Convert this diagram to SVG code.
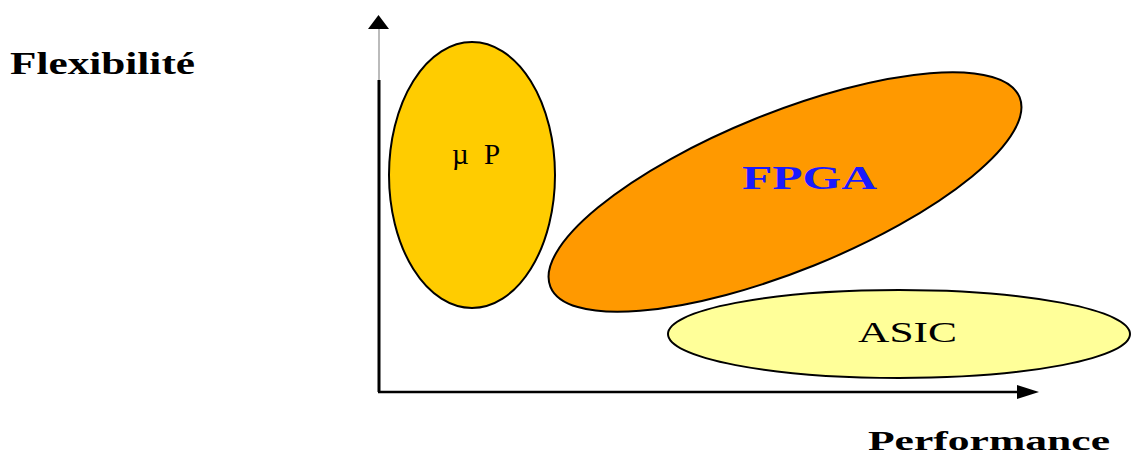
<svg xmlns="http://www.w3.org/2000/svg" width="1132" height="455" viewBox="0 0 1132 455">
<style>
.lbl{font-family:"Liberation Serif",serif;font-weight:bold;fill:#000}
.ell{stroke:#000;stroke-width:2}
.in{font-family:"Liberation Serif",serif;fill:#000}
</style>
<g id="axes">
<line x1="379" y1="80" x2="379" y2="392" stroke="#000" stroke-width="3"/>
<line x1="379" y1="80" x2="379" y2="29" stroke="#bbb" stroke-width="2"/>
<path d="M368,29 L378.5,15 L389,29 z" fill="#000"/>
<line x1="378" y1="392" x2="1018" y2="392" stroke="#000" stroke-width="2.5"/>
<path d="M1017,385 L1039,392 L1017,399 z" fill="#000"/>
</g>
<g id="asic">
<ellipse class="ell" cx="899" cy="334" rx="231" ry="44" fill="#FFFF99"/>
<text class="in" x="858" y="342" font-size="30" textLength="99" lengthAdjust="spacingAndGlyphs">ASIC</text>
</g>
<g id="up">
<ellipse class="ell" cx="472" cy="175" rx="83" ry="133" fill="#FFCC00"/>
<text class="in" y="164" font-size="29"><tspan x="452">µ</tspan><tspan x="484">P</tspan></text>
</g>
<g id="fpga">
<ellipse class="ell" cx="785" cy="192" rx="253" ry="79" fill="#FF9900" transform="rotate(-22 785 192)"/>
<text x="742" y="189" font-family="'Liberation Serif',serif" font-weight="bold" font-size="33" fill="#1a1aff" textLength="135" lengthAdjust="spacingAndGlyphs">FPGA</text>
</g>
<text class="lbl" x="10" y="74" font-size="31" textLength="185" lengthAdjust="spacingAndGlyphs">Flexibilité</text>
<text class="lbl" x="868" y="450" font-size="28" textLength="242" lengthAdjust="spacingAndGlyphs">Performance</text>
</svg>
